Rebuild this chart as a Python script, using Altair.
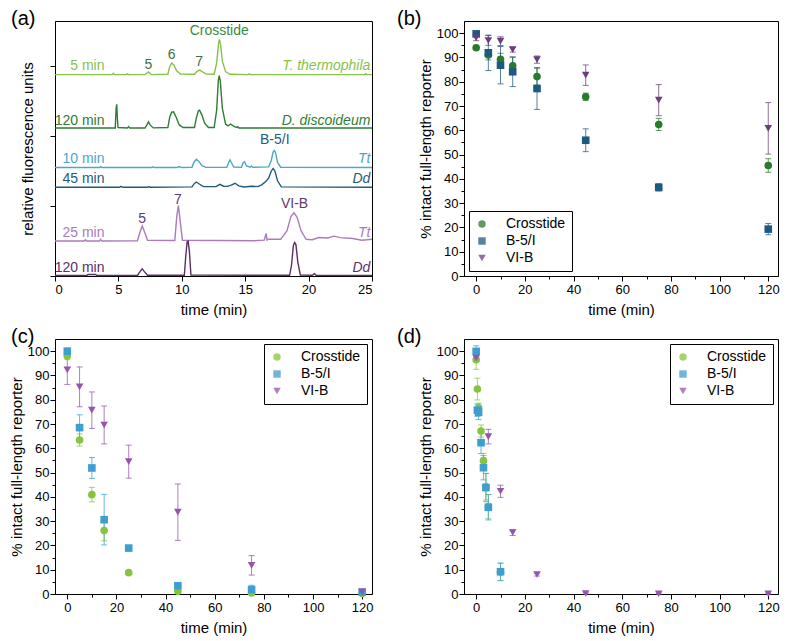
import altair as alt
import pandas as pd

FONT = "Arial, Liberation Sans, sans-serif"

# ---------------- panel (a): chromatogram traces (time, offset fluorescence a.u.) ----------------
tt5_t = [0, 4.5, 4.6, 4.7, 5.6, 5.7, 5.8, 7.1, 7.37, 7.6, 8.9, 9.05, 9.2, 9.35, 9.6, 9.9, 11.0, 11.2, 11.4, 11.6, 11.95,
         12.55, 12.75, 12.9, 12.97, 13.05, 13.2, 13.45, 13.8, 15.2, 15.3, 15.4, 24.4, 24.5, 24.6, 25]
tt5_u = [11.53, 11.53, 11.61, 11.53, 11.53, 11.57, 11.53, 11.53, 11.68, 11.53, 11.55, 12.0, 12.19, 12.1, 11.75, 11.56,
         11.55, 11.72, 11.79, 11.7, 11.56, 11.55, 12.2, 13.3, 13.54, 13.3, 12.3, 11.7, 11.55, 11.53, 11.58, 11.53,
         11.53, 11.58, 11.53, 11.53]

dd120g_t = [0, 4.75, 4.82, 4.87, 4.92, 4.97, 5.7, 5.8, 5.9, 7.1, 7.25, 7.37, 7.5, 7.75, 8.9, 9.05, 9.2, 9.35, 9.55,
            9.8, 10.1, 11.0, 11.15, 11.3, 11.4, 11.6, 11.8, 12.1, 12.55, 12.75, 12.88, 12.95, 13.03, 13.2, 13.45,
            13.65, 13.85, 14.05, 14.3, 14.4, 14.5, 25]
dd120g_u = [8.47, 8.47, 9.6, 9.83, 9.0, 8.5, 8.47, 8.56, 8.47, 8.47, 8.65, 8.83, 8.65, 8.48, 8.5, 9.1, 9.38, 9.4,
            9.1, 8.65, 8.5, 8.5, 9.05, 9.45, 9.49, 9.2, 8.75, 8.5, 8.5, 9.5, 11.2, 11.47, 11.2, 9.6, 8.7, 8.6, 8.7,
            8.6, 8.5, 8.55, 8.47, 8.47]

tt10_t = [0, 3.5, 3.6, 3.7, 7.6, 7.7, 7.8, 9.6, 9.8, 10.0, 10.8, 10.95, 11.15, 11.35, 11.6, 11.9, 13.55, 13.7, 13.8,
          13.9, 14.1, 14.7, 14.85, 14.95, 15.1, 15.4, 15.5, 15.6, 16.85, 17.05, 17.2, 17.3, 17.4, 17.55, 17.8, 25]
tt10_u = [6.21, 6.21, 6.26, 6.21, 6.21, 6.25, 6.21, 6.21, 6.27, 6.21, 6.22, 6.5, 6.68, 6.55, 6.32, 6.22, 6.22, 6.5,
          6.65, 6.5, 6.24, 6.22, 6.5, 6.54, 6.3, 6.23, 6.3, 6.22, 6.25, 6.6, 7.1, 7.19, 7.05, 6.5, 6.23, 6.21]

dd45_t = [0, 5.1, 5.2, 5.35, 7.3, 7.4, 7.5, 10.8, 11.0, 11.15, 11.35, 11.7, 12.7, 13.0, 13.3, 13.6, 13.9, 14.2, 14.5,
          14.9, 15.5, 16.0, 16.3, 16.6, 16.85, 17.05, 17.2, 17.35, 17.55, 17.85, 25]
dd45_u = [5.08, 5.08, 5.13, 5.08, 5.08, 5.12, 5.08, 5.1, 5.3, 5.38, 5.28, 5.12, 5.12, 5.25, 5.14, 5.13, 5.2, 5.31,
          5.16, 5.1, 5.14, 5.12, 5.22, 5.4, 5.6, 6.0, 6.16, 6.0, 5.45, 5.1, 5.08]

tt25_t = [0, 2.3, 2.4, 2.5, 3.5, 3.6, 3.7, 6.5, 6.7, 6.88, 7.05, 7.3, 9.45, 9.6, 9.73, 9.85, 10.05, 15.7, 16.5,
          16.65, 16.72, 16.8, 17.2, 17.8, 18.3, 18.6, 18.85, 19.1, 19.4, 19.8, 20.3, 20.8, 21.5, 22.0, 22.5, 23.5,
          24.2, 25]
tt25_u = [2.0, 2.0, 2.08, 2.0, 2.0, 2.1, 2.0, 2.02, 2.5, 2.86, 2.55, 2.05, 2.03, 3.4, 4.03, 3.3, 2.05, 2.02, 2.05,
          2.43, 2.06, 2.1, 2.1, 2.1, 2.6, 3.4, 3.62, 3.35, 2.6, 2.1, 2.08, 2.2, 2.18, 2.28, 2.2, 2.15, 2.05, 2.1]

dd120p_t = [0, 2.5, 2.6, 3.2, 3.3, 6.5, 6.7, 6.88, 7.05, 7.3, 10.2, 10.32, 10.42, 10.5, 10.6, 10.72, 18.5, 18.65,
            18.8, 18.9, 19.0, 19.15, 19.35, 20.3, 20.45, 20.6, 25]
dd120p_u = [0.03, 0.03, 0.09, 0.09, 0.03, 0.03, 0.25, 0.41, 0.25, 0.04, 0.04, 1.2, 1.95, 2.0, 1.4, 0.06, 0.04, 0.6,
            1.75, 1.92, 1.8, 0.8, 0.06, 0.04, 0.13, 0.04, 0.03]

trace_ids = ["tt5", "dd120g", "tt10", "dd45", "tt25", "dd120p"]
trace_t = [tt5_t, dd120g_t, tt10_t, dd45_t, tt25_t, dd120p_t]
trace_u = [tt5_u, dd120g_u, tt10_u, dd45_u, tt25_u, dd120p_u]
trace_colors = ["#86c24a", "#2f7d34", "#4aa6cc", "#1f5a7a", "#a97cbc", "#5a2e66"]

# trace labels (left: sampling time, right: organism)
left_labels = ["5 min", "120 min", "10 min", "45 min", "25 min", "120 min"]
right_labels = ["T. thermophila", "D. discoideum", "Tt", "Dd", "Tt", "Dd"]
label_u = [12.0, 8.89, 6.68, 5.54, 2.49, 0.45]

# peak labels
peak_text = ["Crosstide", "5", "6", "7", "B-5/I", "5", "7", "VI-B"]
peak_t = [12.95, 7.36, 9.2, 11.37, 17.33, 6.87, 9.69, 18.89]
peak_u = [14.0, 12.09, 12.66, 12.24, 7.76, 3.24, 4.37, 4.12]
peak_colors = ["#3c8a3c", "#3f6e42", "#3f6e42", "#3f6e42", "#2a5a7c", "#5e3a6e", "#5e3a6e", "#5e3a6e"]

# ---------------- panels (b), (c), (d): % intact full-length reporter ----------------
series = ["Crosstide", "B-5/I", "VI-B"]
shapes = ["circle", "square", "triangle-down"]

times_std = [0, 5, 10, 15, 25, 45, 75, 120]

# (b)
b_cross = [94, 91, 89.2, 86.6, 82.1, 73.8, 62.4, 45.5]
b_cross_err = [0.8, 2, 2.5, 3.5, 3.5, 1.5, 2.5, 2.8]
b_b5 = [99.7, 91.9, 86.8, 84.1, 77.2, 55.9, 36.5, 19.3]
b_b5_err = [0.8, 7.3, 7.7, 6.1, 8.6, 4.7, 1.5, 2.3]
b_vib = [98.1, 97, 96.7, 93.2, 89.1, 82.7, 72.4, 60.8]
b_vib_err = [1.2, 2, 1.8, 1.0, 1.5, 4.2, 6.4, 10.6]
b_colors = ["#2a7a2e", "#1d5a80", "#6b3d7e"]

# (c)
c_cross = [98, 63.4, 40.9, 26.1, 8.8, 1.1, 0.4, 0.2]
c_cross_err = [1.5, 2.5, 3, 4.2, 0.6, 0.5, 0.3, 0.2]
c_b5 = [100, 68.5, 51.9, 30.6, 18.9, 3.4, 1.8, 0.8]
c_b5_err = [0.8, 5.3, 4.3, 10.4, 0.6, 0.8, 1.8, 0.5]
c_vib = [92.3, 85.3, 75.7, 69.6, 54.5, 33.7, 11.8, 0.9]
c_vib_err = [6, 8.2, 7.5, 7.8, 6.8, 11.6, 4, 0.8]
cd_colors = ["#86c440", "#3e9fcf", "#9554ad"]

# (d)
d_cross_t = [0, 0.5, 1, 2, 3, 4, 5, 10]
d_cross = [96.5, 84.4, 76.6, 67.1, 54.9, 44.2, 36, 9]
d_cross_err = [4, 4.5, 2, 2.5, 3, 5.5, 5, 3.5]
d_b5_t = [0, 0.5, 1, 2, 3, 4, 5, 10]
d_b5 = [99.9, 75.7, 74.8, 62.3, 52, 43.8, 35.7, 9.2]
d_b5_err = [2.3, 2.5, 3, 4.5, 5, 5.8, 5.2, 3.6]
d_vib_t = [0, 5, 10, 15, 25, 45, 75, 120]
d_vib = [97.2, 64.8, 42.3, 25.3, 8, 0.2, 0.1, 0.1]
d_vib_err = [1.5, 3, 2.5, 1.2, 0.6, 0.3, 0.3, 0.3]

W1, W2, H = 317, 314, 255


def panel_title(txt, dx):
    return alt.TitleParams(txt, anchor="start", frame="group", dx=dx, offset=-8, fontSize=20,
                           fontWeight="normal", font=FONT, color="black")


# ---------- build panel (a) ----------
rows = []
for tid, ts, us, col in zip(trace_ids, trace_t, trace_u, trace_colors):
    for t, u in zip(ts, us):
        rows.append({"trace": tid, "t": t, "u": u, "col": col})
df_tr = pd.DataFrame(rows)

xa = alt.X("t:Q", scale=alt.Scale(domain=[0, 25], nice=False, zero=False),
           axis=alt.Axis(values=[0, 2.5, 5, 7.5, 10, 12.5, 15, 17.5, 20, 22.5, 25],
                         labelExpr="datum.value % 5 === 0 ? datum.label : ''",
                         tickSize={"condition": {"test": "datum.value % 5 === 0", "value": 5}, "value": 3},
                         title="time (min)", titlePadding=6))
ya = alt.Y("u:Q", scale=alt.Scale(domain=[0, 14.6], nice=False, zero=False),
           axis=alt.Axis(values=list(range(0, 15)), labels=False,
                         tickSize={"condition": {"test": "datum.value % 2 === 0", "value": 5}, "value": 3},
                         title="relative fluorescence units", titlePadding=14))

lines_a = alt.Chart(df_tr).mark_line(strokeWidth=1.4).encode(
    x=xa, y=ya, detail="trace:N", color=alt.Color("col:N", scale=None))

df_left = pd.DataFrame({"t": [3.9] * 6, "u": label_u, "txt": left_labels, "col": trace_colors})
df_right = pd.DataFrame({"t": [24.87] * 6, "u": label_u, "txt": right_labels, "col": trace_colors})
df_peak = pd.DataFrame({"t": peak_t, "u": peak_u, "txt": peak_text, "col": peak_colors})

txt_left = alt.Chart(df_left).mark_text(align="right", baseline="middle", fontSize=14, font=FONT).encode(
    x="t:Q", y="u:Q", text="txt:N", color=alt.Color("col:N", scale=None))
txt_right = alt.Chart(df_right).mark_text(align="right", baseline="middle", fontSize=14, font=FONT,
                                          fontStyle="italic").encode(
    x="t:Q", y="u:Q", text="txt:N", color=alt.Color("col:N", scale=None))
txt_peak = alt.Chart(df_peak).mark_text(align="center", baseline="middle", fontSize=14, font=FONT).encode(
    x="t:Q", y="u:Q", text="txt:N", color=alt.Color("col:N", scale=None))

panel_a = alt.layer(lines_a, txt_left, txt_right, txt_peak).properties(
    width=W1, height=H, title=panel_title("(a)", -44))


# ---------- scatter panels ----------
def scatter_panel(tlist, vlist, elist, colors, label, width, legend_orient, dx):
    rows = []
    for s, col, ts, vs, es in zip(series, colors, tlist, vlist, elist):
        for t, v, e in zip(ts, vs, es):
            rows.append({"series": s, "t": t, "v": v, "lo": max(v - e, 0), "hi": v + e, "col": col})
    df = pd.DataFrame(rows)
    x = alt.X("t:Q", scale=alt.Scale(domain=[-5, 124], nice=False, zero=False),
              axis=alt.Axis(values=list(range(0, 121, 10)),
                            labelExpr="datum.value % 20 === 0 ? datum.label : ''",
                            tickSize={"condition": {"test": "datum.value % 20 === 0", "value": 5}, "value": 3},
                            title="time (min)", titlePadding=6))
    yax = alt.Axis(values=list(range(0, 101, 5)),
                   labelExpr="datum.value % 10 === 0 ? datum.label : ''",
                   tickSize={"condition": {"test": "datum.value % 10 === 0", "value": 5}, "value": 3},
                   title="% intact full-length reporter", titlePadding=3, labelPadding=1)
    yscale = alt.Scale(domain=[0, 105], nice=False, zero=False)
    leg = alt.Legend(title=None, orient=legend_orient, offset=5, strokeColor="black", fillColor="white",
                     padding=6, labelFontSize=14, labelFont=FONT, labelColor="black", symbolSize=55,
                     rowPadding=3, labelOffset=17, symbolStrokeWidth=0)
    err = alt.Chart(df).mark_errorbar(ticks=True, size=6, thickness=1, opacity=0.75).encode(
        x=x, y=alt.Y("lo:Q", scale=yscale, axis=yax), y2="hi:Q",
        color=alt.Color("col:N", scale=None))
    pts = alt.Chart(df).mark_point(filled=True, opacity=1, size=58).encode(
        x=x, y=alt.Y("v:Q", scale=yscale, axis=yax),
        color=alt.Color("series:N", scale=alt.Scale(domain=series, range=colors), legend=leg),
        shape=alt.Shape("series:N", scale=alt.Scale(domain=series, range=shapes), legend=leg))
    return alt.layer(err, pts).properties(width=width, height=H, title=panel_title(label, dx))


panel_b = scatter_panel([times_std] * 3, [b_cross, b_b5, b_vib], [b_cross_err, b_b5_err, b_vib_err],
                        b_colors, "(b)", W2, "bottom-left", -67)
panel_c = scatter_panel([times_std] * 3, [c_cross, c_b5, c_vib], [c_cross_err, c_b5_err, c_vib_err],
                        cd_colors, "(c)", W1, "top-right", -44)
panel_d = scatter_panel([d_cross_t, d_b5_t, d_vib_t], [d_cross, d_b5, d_vib], [d_cross_err, d_b5_err, d_vib_err],
                        cd_colors, "(d)", W2, "top-right", -67)

chart = alt.concat(panel_a, panel_b, panel_c, panel_d, columns=2,
                   spacing={"row": 8, "column": 20}).resolve_scale(
    color="independent", shape="independent", x="independent", y="independent"
).resolve_legend(color="independent", shape="independent").properties(
    padding=0
).configure_view(stroke="black", strokeWidth=1).configure_axis(
    grid=False, domainColor="black", tickColor="black", labelColor="black", titleColor="black",
    labelFont=FONT, titleFont=FONT, labelFontSize=13, titleFontSize=15, titleFontWeight="normal",
    domainWidth=1, tickWidth=1, labelPadding=2
)

chart.save("out.html", embed_options={"renderer": "svg", "actions": False})
